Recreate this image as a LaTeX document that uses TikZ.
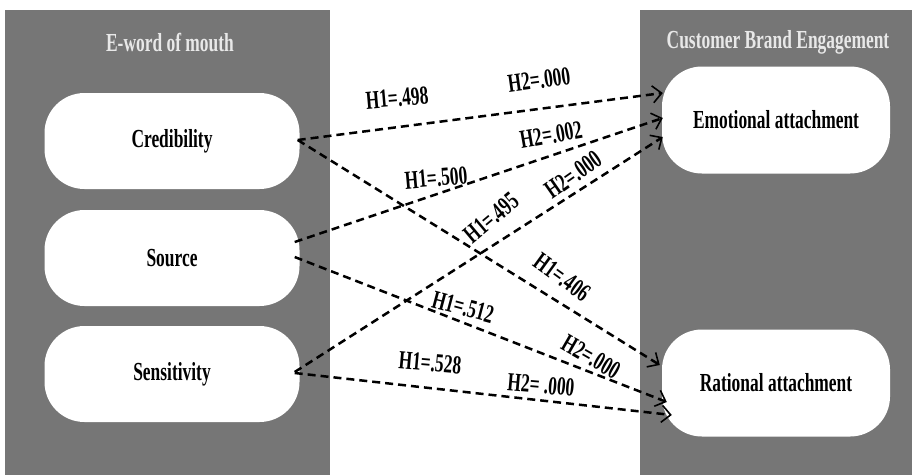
\documentclass[tikz,border=0pt]{standalone}
\usepackage{fontspec}
\setmainfont{Liberation Serif}[FakeStretch=0.67]
\usetikzlibrary{arrows.meta}
\begin{document}
\begin{tikzpicture}[x=1pt,y=-1pt,
  panel/.style={fill=panelgray,draw=none},
  title/.style={text=titlewhite,font=\fontsize{26}{28}\selectfont\bfseries},
  boxnode/.style={fill=white,draw=none,rounded corners=40pt,minimum width=255pt,minimum height=96pt,font=\fontsize{26}{28}\selectfont\bfseries,inner sep=0pt},
  tgtnode/.style={boxnode,minimum width=228pt,minimum height=107pt},
  link/.style={line width=2.5pt,dash pattern=on 8pt off 5pt,-{Straight Barb[length=9pt,width=17pt,line width=1.6pt]}},
  lab/.style={font=\fontsize{26}{28}\selectfont\bfseries,inner sep=0pt}]
\definecolor{panelgray}{RGB}{118,118,118}
\definecolor{titlewhite}{RGB}{232,232,232}
\useasboundingbox (0,0) rectangle (912,475);
\fill[white] (0,0) rectangle (912,475);
\fill[panel] (5,10) rectangle (330,475);
\fill[panel] (640,10) rectangle (912,475);
\node[title] (t1) at (170,42) {E-word of mouth};
\node[title] (t2) at (778,42) {Customer Brand Engagement};
\node[boxnode] (cred) at (172,141) {Credibility};
\node[boxnode] (src) at (172,258) {Source};
\node[boxnode] (sens) at (172,374) {Sensitivity};
\node[tgtnode] (emo) at (776,120) {Emotional attachment};
\node[tgtnode] (rat) at (776,383) {Rational attachment};
% connectors
\draw[link] ([xshift=-2pt,yshift=1pt]cred.east) -- ([xshift=1pt,yshift=27pt]emo.west);
\draw[link] ([xshift=-5pt,yshift=16pt]src.east) -- ([xshift=1pt,yshift=2pt]emo.west);
\draw[link] ([xshift=-5pt,yshift=2pt]sens.east) -- ([xshift=1pt,yshift=-17pt]emo.west);
\draw[link] ([xshift=-2pt,yshift=1pt]cred.east) -- ([xshift=-2pt,yshift=18pt]rat.west);
\draw[link] ([xshift=-5pt,yshift=1pt]src.east) -- ([xshift=5pt,yshift=-19pt]rat.west);
\draw[link] ([xshift=-5pt,yshift=1pt]sens.east) -- ([xshift=10pt,yshift=-32pt]rat.west);
% labels
\node[lab,rotate=5] (l1) at (397,98) {H1=.498};
\node[lab,rotate=8] (l2) at (539,80) {H2=.000};
\node[lab,rotate=10] (l3) at (551,135) {H2=.002};
\node[lab,rotate=5] (l4) at (436,178) {H1=.500};
\node[lab,rotate=40] (l5) at (491,218) {H1=.495};
\node[lab,rotate=35] (l6) at (573,175) {H2=.000};
\node[lab,rotate=-36] (l7) at (562,277) {H1=.406};
\node[lab,rotate=-15] (l8) at (463,307) {H1=.512};
\node[lab,rotate=-30] (l9) at (591,357) {H2=.000};
\node[lab,rotate=-5] (l10) at (430,363) {H1=.528};
\node[lab,rotate=-5] (l11) at (541,385) {H2= .000};
\end{tikzpicture}
\end{document}
